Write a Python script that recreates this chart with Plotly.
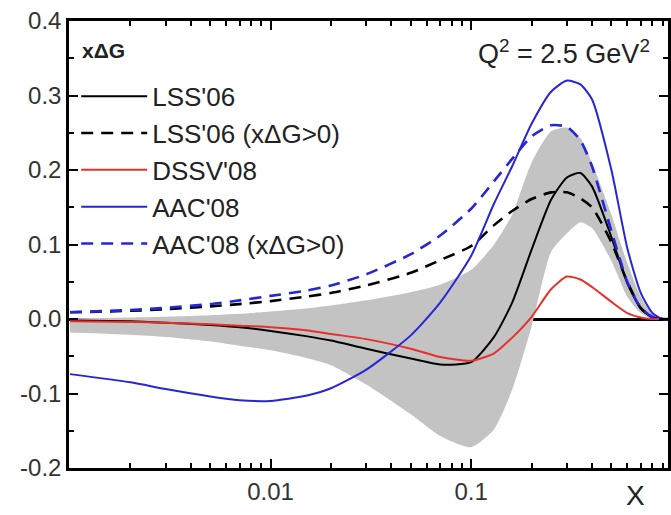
import plotly.graph_objects as go

# ---- data ----
x_vals = [0.001, 0.002, 0.003, 0.005, 0.007, 0.01, 0.015, 0.02, 0.03, 0.05, 0.07,
          0.1, 0.13, 0.16, 0.2, 0.25, 0.3, 0.35, 0.4, 0.5, 0.6, 0.7, 0.8, 0.9, 1.0]

lss06 = [-0.002, -0.003, -0.005, -0.008, -0.011, -0.016, -0.023, -0.029, -0.040, -0.053, -0.061,
         -0.058, -0.024, 0.022, 0.093, 0.160, 0.190, 0.196, 0.178, 0.110, 0.048, 0.014, 0.002, 0.0, 0.0]
lss06_pos = [0.009, 0.011, 0.013, 0.017, 0.020, 0.024, 0.030, 0.035, 0.045, 0.062, 0.079,
             0.098, 0.126, 0.145, 0.161, 0.170, 0.170, 0.162, 0.150, 0.103, 0.050, 0.015, 0.002, 0.0, 0.0]
dssv08 = [-0.003, -0.004, -0.005, -0.007, -0.009, -0.011, -0.015, -0.020, -0.027, -0.040, -0.051,
          -0.056, -0.046, -0.025, 0.003, 0.040, 0.057, 0.053, 0.043, 0.023, 0.008, 0.002, 0.0, 0.0, 0.0]
aac08 = [-0.074, -0.085, -0.094, -0.104, -0.109, -0.110, -0.103, -0.093, -0.068, -0.022, 0.022,
         0.085, 0.155, 0.205, 0.262, 0.305, 0.320, 0.315, 0.295, 0.200, 0.095, 0.035, 0.008, 0.0, 0.0]
aac08_pos = [0.009, 0.012, 0.015, 0.020, 0.025, 0.031, 0.038, 0.045, 0.060, 0.087, 0.112,
             0.148, 0.185, 0.215, 0.245, 0.260, 0.258, 0.240, 0.205, 0.118, 0.050, 0.015, 0.003, 0.0, 0.0]
band_upper = [0.001, 0.002, 0.003, 0.005, 0.007, 0.010, 0.014, 0.018, 0.025, 0.036, 0.046,
              0.066, 0.100, 0.140, 0.210, 0.252, 0.257, 0.243, 0.210, 0.140, 0.075, 0.030, 0.006, 0.0, 0.0]
band_lower = [-0.018, -0.021, -0.024, -0.030, -0.036, -0.042, -0.052, -0.062, -0.088, -0.128, -0.157,
              -0.172, -0.148, -0.095, -0.010, 0.090, 0.115, 0.130, 0.122, 0.078, 0.030, 0.008, 0.0, 0.0, 0.0]

series_names = ["LSS'06", "LSS'06 (x\u0394G>0)", "DSSV'08", "AAC'08", "AAC'08 (x\u0394G>0)"]
x_tick_vals = [0.01, 0.1]
x_tick_text = ["0.01", "0.1"]
y_tick_vals = [-0.2, -0.1, 0.0, 0.1, 0.2, 0.3, 0.4]
y_tick_text = ["-0.2", "-0.1", "0.0", "0.1", "0.2", "0.3", "0.4"]

FONT = "Liberation Sans, Arial, sans-serif"
BLUE = "#2626d6"
RED = "#e8302a"

fig = go.Figure()

# uncertainty band
fig.add_trace(go.Scatter(x=x_vals, y=band_lower, mode="lines",
                         line=dict(width=0, shape="spline", smoothing=0.6),
                         showlegend=False, hoverinfo="skip"))
fig.add_trace(go.Scatter(x=x_vals, y=band_upper, mode="lines",
                         line=dict(width=0, shape="spline", smoothing=0.6),
                         fill="tonexty", fillcolor="#c3c3c3", showlegend=False, hoverinfo="skip"))

styles = [
    (lss06, "black", "solid", 2.0),
    (lss06_pos, "black", "12px,8px", 2.6),
    (dssv08, RED, "solid", 2.0),
    (aac08, BLUE, "solid", 2.0),
    (aac08_pos, BLUE, "12px,8px", 2.6),
]
for i, (ys, col, dash, w) in enumerate(styles):
    fig.add_trace(go.Scatter(x=x_vals, y=ys, mode="lines", name=series_names[i],
                             line=dict(color=col, dash=dash, width=w, shape="spline", smoothing=0.6)))

fig.update_layout(
    width=671, height=515,
    margin=dict(l=69, r=0, t=21, b=47),
    paper_bgcolor="white", plot_bgcolor="white",
    font=dict(family=FONT, color="#333333"),
    showlegend=True,
    legend=dict(x=0.012, y=0.884, xanchor="left", yanchor="top",
                bgcolor="rgba(0,0,0,0)", borderwidth=0, traceorder="normal",
                font=dict(size=26, color="#222222", family=FONT),
                itemwidth=66),
)

fig.update_xaxes(
    type="log", range=[-3.005, -0.019],
    showline=True, linecolor="black", linewidth=2.5, mirror="ticks",
    ticks="inside", ticklen=9, tickwidth=2, tickcolor="black",
    tickmode="array", tickvals=x_tick_vals, ticktext=x_tick_text,
    tickfont=dict(size=24, color="#333333"),
    minor=dict(ticks="inside", ticklen=5, tickwidth=1.5, tickcolor="black", dtick="D1"),
    showgrid=False, zeroline=False,
)
fig.update_yaxes(
    range=[-0.2, 0.4],
    showline=True, linecolor="black", linewidth=2.5, mirror="ticks",
    ticks="inside", ticklen=9, tickwidth=2, tickcolor="black",
    tickmode="array", tickvals=y_tick_vals, ticktext=y_tick_text,
    tickfont=dict(size=24, color="#333333"),
    minor=dict(ticks="inside", ticklen=5, tickwidth=1.5, tickcolor="black", dtick=0.05),
    showgrid=False, zeroline=True, zerolinecolor="black", zerolinewidth=2.5,
)

fig.add_annotation(xref="paper", yref="paper", x=0.018, y=0.935, xanchor="left", yanchor="middle",
                   text="<b>x\u0394G</b>", showarrow=False, font=dict(size=21, color="#222222"))
fig.add_annotation(xref="paper", yref="paper", x=0.973, y=0.93, xanchor="right", yanchor="middle",
                   text="Q<sup>2</sup> = 2.5 GeV<sup>2</sup>", showarrow=False,
                   font=dict(size=27, color="#222222"))
fig.add_annotation(xref="paper", yref="paper", x=0.945, y=-0.062, xanchor="center", yanchor="middle",
                   text="X", showarrow=False, font=dict(size=28, color="#222222"))

fig.write_html("out.html")
